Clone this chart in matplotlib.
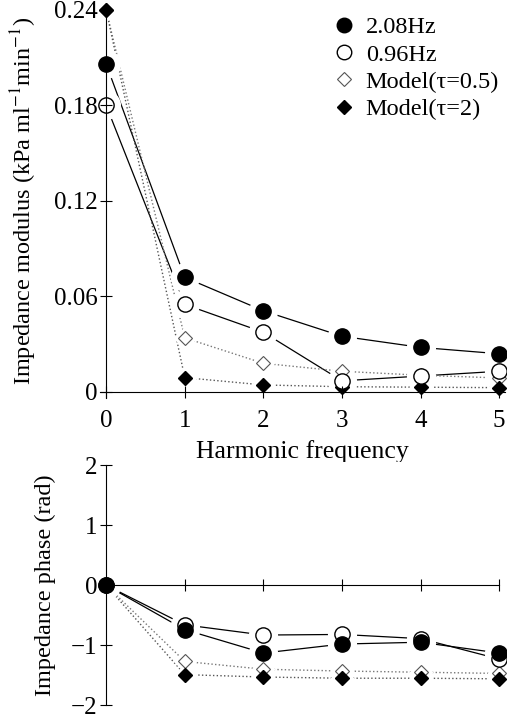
import matplotlib
matplotlib.use("Agg")
import matplotlib.pyplot as plt
from matplotlib.lines import Line2D

plt.rcParams["font.family"] = ["Liberation Serif", "DejaVu Serif"]
plt.rcParams["mathtext.fontset"] = "stix"

harmonics = [0, 1, 2, 3, 4, 5]

mod_208 = [0.206, 0.072, 0.051, 0.035, 0.028, 0.024]
mod_096 = [0.180, 0.055, 0.0375, 0.007, 0.010, 0.013]
mod_tau05 = [0.240, 0.034, 0.018, 0.013, 0.0105, 0.0088]
mod_tau2 = [0.240, 0.009, 0.0044, 0.0033, 0.003, 0.0027]

ph_208 = [0, -0.74, -1.13, -0.98, -0.95, -1.13]
ph_096 = [0, -0.66, -0.83, -0.82, -0.89, -1.23]
ph_tau05 = [0, -1.27, -1.40, -1.43, -1.45, -1.47]
ph_tau2 = [0, -1.49, -1.53, -1.55, -1.55, -1.56]

labels = ["2.08Hz", "0.96Hz", "Model(τ=0.5)", "Model(τ=2)"]

markers = [
    dict(marker="o", ms=11, mfc="black", mec="black", mew=1.0),
    dict(marker="o", ms=11, mfc="white", mec="black", mew=1.0),
    dict(marker="D", ms=7.5, mfc="white", mec="#555555", mew=0.8),
    dict(marker="D", ms=7.5, mfc="black", mec="black", mew=1.0),
]
lines = [
    dict(color="black", ls="-", lw=0.9),
    dict(color="black", ls="-", lw=0.9),
    dict(color="#777777", ls=":", lw=1.0),
    dict(color="#555555", ls=":", lw=1.0),
]
halo_width = [10, 10, 5, 5]

fig = plt.figure(figsize=(5.07, 7.19), dpi=100)
ax1 = fig.add_axes([0.197, 0.446, 0.800, 0.549])
ax2 = fig.add_axes([0.197, 0.015, 0.800, 0.342])

mods = [mod_208, mod_096, mod_tau05, mod_tau2]
phs = [ph_208, ph_096, ph_tau05, ph_tau2]
for ax, series in ((ax1, mods), (ax2, phs)):
    for i in range(4):
        ax.plot(harmonics, series[i], zorder=2, clip_on=False, **lines[i])
    # white halo so the lines stop short of the symbols
    for i in range(4):
        halo = dict(markers[i], mfc="white", mec="white", mew=halo_width[i])
        ax.plot(harmonics, series[i], ls="none", zorder=3, clip_on=False, **halo)
    for z, i in enumerate((2, 3, 1, 0)):
        ax.plot(harmonics, series[i], ls="none", zorder=4 + 0.1 * z, clip_on=False, **markers[i])

for ax in (ax1, ax2):
    for s in ("top", "right"):
        ax.spines[s].set_visible(False)
    for s in ("left", "bottom"):
        ax.spines[s].set_zorder(6)
    ax.xaxis.set_zorder(6)
    ax.yaxis.set_zorder(6)
    ax.tick_params(direction="inout", length=8, width=0.8, labelsize=18, pad=2)

ax1.set_xlim(-0.08, 5.08)
ax1.set_ylim(-0.004, 0.244)
ax1.set_xticks(harmonics)
ax1.set_yticks([0, 0.06, 0.12, 0.18, 0.24])
ax1.set_yticklabels(["0", "0.06", "0.12", "0.18", "0.24"])
ax1.tick_params(axis="x", pad=9)
ax1.spines["left"].set_position(("data", 0))
ax1.spines["bottom"].set_position(("data", 0))
ax1.set_ylabel("Impedance modulus (kPa ml$^{-1}$min$^{-1}$)", fontsize=17.5, labelpad=11)
ax1.set_xlabel("Harmonic frequency", fontsize=18.5, labelpad=6)

handles = [Line2D([], [], ls="none", **dict(markers[i], ms=markers[i]["ms"] * 0.95)) for i in range(4)]
ax1.legend(handles, labels, loc="upper right", bbox_to_anchor=(1.02, 1.005),
           frameon=False, fontsize=17.5, handlelength=0.8, handletextpad=0.5,
           labelspacing=0.22, borderaxespad=0.2, numpoints=1)

ax2.set_xlim(-0.08, 5.08)
ax2.set_ylim(-2.05, 2.05)
ax2.set_yticks([-2, -1, 0, 1, 2])
ax2.set_yticklabels(["\u22122", "\u22121", "0", "1", "2"])
ax2.set_xticks([1, 2, 3, 4, 5])
ax2.set_xticklabels([])
ax2.spines["left"].set_position(("data", 0))
ax2.spines["left"].set_bounds(-2, 2)
ax2.spines["bottom"].set_position(("data", 0))
ax2.spines["bottom"].set_bounds(0, 5)
ax2.set_ylabel("Impedance phase (rad)", fontsize=17.5, labelpad=11)

fig.savefig("out.png", dpi=100)
